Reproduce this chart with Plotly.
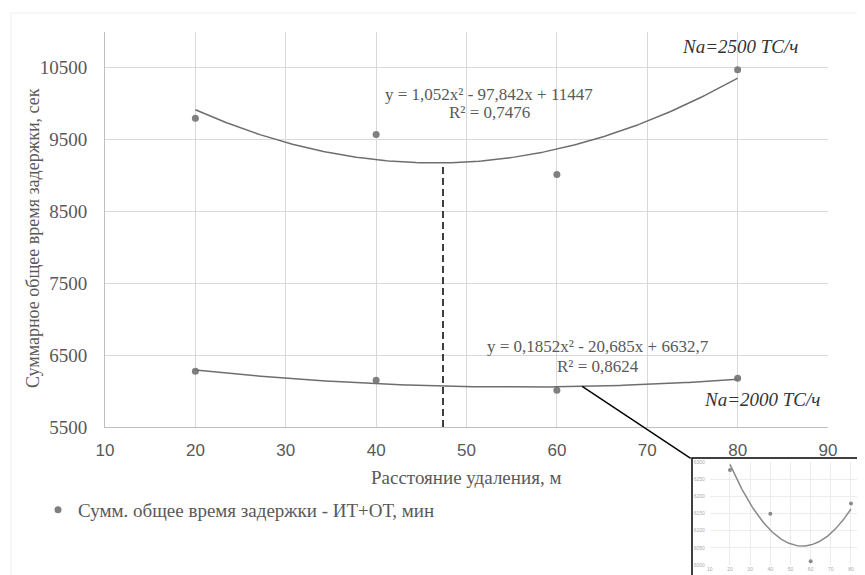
import numpy as np
import plotly.graph_objects as go

# ---------------- data ----------------
distance = [20, 40, 60, 80]                    # Расстояние удаления, м
delay_2500 = [9794, 9568, 9013, 10469]         # Na=2500 ТС/ч
delay_2000 = [6277, 6149, 6011, 6179]          # Na=2000 ТС/ч
coef_2500 = [1.052, -97.842, 11447]            # trendline y = a x² + b x + c
coef_2000 = [0.1852, -20.685, 6632.7]
r2_2500 = "0,7476"
r2_2000 = "0,8624"
opt_distance = 47.4                            # dashed marker line
x_ticks = [10, 20, 30, 40, 50, 60, 70, 80, 90]
y_ticks = [5500, 6500, 7500, 8500, 9500, 10500]
inset_y_ticks = [6000, 6050, 6100, 6150, 6200, 6250, 6300]
inset_x_ticks = [10, 20, 30, 40, 50, 60, 70, 80]
legend_name = "Сумм. общее время задержки - ИТ+ОТ, мин"

# the page body has an 8px margin: build the figure in window pixels
OFF = 8
WIN_W, WIN_H = 865, 575
W, H = WIN_W - OFF, WIN_H - OFF
SERIF = "Liberation Serif, DejaVu Serif, Times New Roman, serif"
SANS = "Liberation Sans, Arial, sans-serif"
GREY_TXT = "#595959"


def fx(px):
    return (px - OFF) / W


def fy(py):
    return 1 - (py - OFF) / H


def poly(c, x):
    x = np.asarray(x, dtype=float)
    return c[0] * x ** 2 + c[1] * x + c[2]


xf = np.linspace(distance[0], distance[-1], 200)

fig = go.Figure()
mk = dict(color="#7f7f7f", size=7)
fig.add_trace(go.Scatter(x=distance, y=delay_2500, mode="markers", marker=mk,
                         name=legend_name, legendgroup="g", showlegend=True))
fig.add_trace(go.Scatter(x=distance, y=delay_2000, mode="markers", marker=mk,
                         name=legend_name, legendgroup="g", showlegend=False))
fig.add_trace(go.Scatter(x=xf, y=poly(coef_2500, xf), mode="lines",
                         line=dict(color="#6e6e6e", width=1.5), showlegend=False,
                         hoverinfo="skip"))
fig.add_trace(go.Scatter(x=xf, y=poly(coef_2000, xf), mode="lines",
                         line=dict(color="#6e6e6e", width=1.5), showlegend=False,
                         hoverinfo="skip"))
fig.add_trace(go.Scatter(x=[opt_distance, opt_distance],
                         y=[y_ticks[0], float(poly(coef_2500, opt_distance))],
                         mode="lines", line=dict(color="black", width=1.5, dash="7px,4px"),
                         showlegend=False, hoverinfo="skip"))

# inset (zoom of the lower series)
fig.add_trace(go.Scatter(x=distance, y=delay_2000, mode="markers",
                         marker=dict(color="#8a8a8a", size=4), xaxis="x2", yaxis="y2",
                         showlegend=False))
fig.add_trace(go.Scatter(x=xf, y=poly(coef_2000, xf), mode="lines",
                         line=dict(color="#8a8a8a", width=1.5), xaxis="x2", yaxis="y2",
                         showlegend=False, hoverinfo="skip"))

# ---------------- layout ----------------
px_left, px_right, px_top, px_bottom = 105, 828, 31.5, 427
in_left, in_right = 709.8, WIN_W            # inset axes pixel extent
in_top, in_bottom = 462, 565
in_xmax = 10 + (in_right - in_left) / 2.017

fig.update_layout(
    width=W, height=H,
    margin=dict(l=0, r=0, t=0, b=0),
    paper_bgcolor="white", plot_bgcolor="white",
    showlegend=True,
    legend=dict(x=fx(38), y=fy(510), xanchor="left", yanchor="middle",
                font=dict(family=SERIF, size=19, color=GREY_TXT),
                bgcolor="rgba(0,0,0,0)", borderwidth=0),
    xaxis=dict(domain=[fx(px_left), fx(px_right)], range=[10, 90],
               tickvals=x_ticks, ticktext=[str(v) for v in x_ticks],
               showgrid=True, gridcolor="#d9d9d9", gridwidth=1,
               showline=True, linecolor="#bfbfbf", linewidth=1, zeroline=False,
               ticks="", tickfont=dict(family=SANS, size=17, color=GREY_TXT),
               ticklabelstandoff=8, anchor="y", automargin=False),
    yaxis=dict(domain=[fy(px_bottom), fy(px_top)], range=[5500, 11000],
               tickvals=y_ticks, ticktext=[str(v) for v in y_ticks],
               showgrid=True, gridcolor="#d9d9d9", gridwidth=1,
               showline=True, linecolor="#bfbfbf", linewidth=1, zeroline=False,
               ticks="", tickfont=dict(family=SERIF, size=19, color=GREY_TXT),
               ticklabelstandoff=13, anchor="x", automargin=False),
    xaxis2=dict(domain=[fx(in_left), 1], range=[10, in_xmax], tickvals=inset_x_ticks,
                ticktext=[str(v) for v in inset_x_ticks],
                showgrid=True, gridcolor="#ececec", showline=False, zeroline=False,
                ticks="", tickfont=dict(family=SANS, size=5, color="#aaaaaa"),
                anchor="y2", automargin=False, ticklabelstandoff=0),
    yaxis2=dict(domain=[fy(in_bottom), fy(in_top)], range=[6000, 6300],
                tickvals=inset_y_ticks, ticktext=[str(v) for v in inset_y_ticks],
                showgrid=True, gridcolor="#ececec",
                showline=False, zeroline=False, ticks="",
                tickfont=dict(family=SANS, size=5, color="#aaaaaa"),
                anchor="x2", automargin=False, ticklabelstandoff=4),
)

# faint outer chart border and inset frame
fig.add_shape(type="rect", xref="paper", yref="paper", x0=fx(11), x1=1.02,
              y0=-0.02, y1=fy(13), line=dict(color="#ededed", width=1),
              layer="below")
fig.add_shape(type="rect", xref="paper", yref="paper", x0=fx(692), x1=1.02,
              y0=-0.02, y1=fy(458), line=dict(color="black", width=1.5),
              fillcolor="white", layer="below")

eq_font = dict(family=SERIF, size=17, color=GREY_TXT)
ann = [
    dict(x=52.5, y=10123, text="y = 1,052x² - 97,842x + 11447", font=eq_font),
    dict(x=52.5, y=9867, text="R² = " + r2_2500, font=eq_font),
    dict(x=64.5, y=6613, text="y = 0,1852x² - 20,685x + 6632,7", font=eq_font),
    dict(x=64.5, y=6348, text="R² = " + r2_2000, font=eq_font),
    dict(x=80.3, y=10785, text="<i>Na=2500 TC/ч</i>",
         font=dict(family=SERIF, size=19, color="#333333")),
    dict(x=82.7, y=5881, text="<i>Na=2000 TC/ч</i>",
         font=dict(family=SERIF, size=19, color="#333333")),
]
for a in ann:
    fig.add_annotation(xref="x", yref="y", showarrow=False, xanchor="center",
                       yanchor="middle", **a)

# connector from lower trendline to the inset
conn_x = 62.8
fig.add_annotation(xref="x", yref="y", x=conn_x, y=float(poly(coef_2000, conn_x)),
                   text="", showarrow=True, arrowhead=0, arrowwidth=1.4,
                   arrowcolor="black", axref="pixel", ayref="pixel", ax=110, ay=73,
                   standoff=0, startstandoff=0)

# axis titles
fig.add_annotation(xref="paper", yref="paper", x=fx((px_left + px_right) / 2),
                   y=fy(477), text="Расстояние удаления, м", showarrow=False,
                   xanchor="center", yanchor="middle",
                   font=dict(family=SERIF, size=19, color=GREY_TXT))
fig.add_annotation(xref="paper", yref="paper", x=fx(33), y=fy(238),
                   text="Суммарное общее время задержки, сек", showarrow=False,
                   textangle=-90, xanchor="center", yanchor="middle",
                   font=dict(family=SERIF, size=18, color=GREY_TXT))

fig.write_html("out.html")
